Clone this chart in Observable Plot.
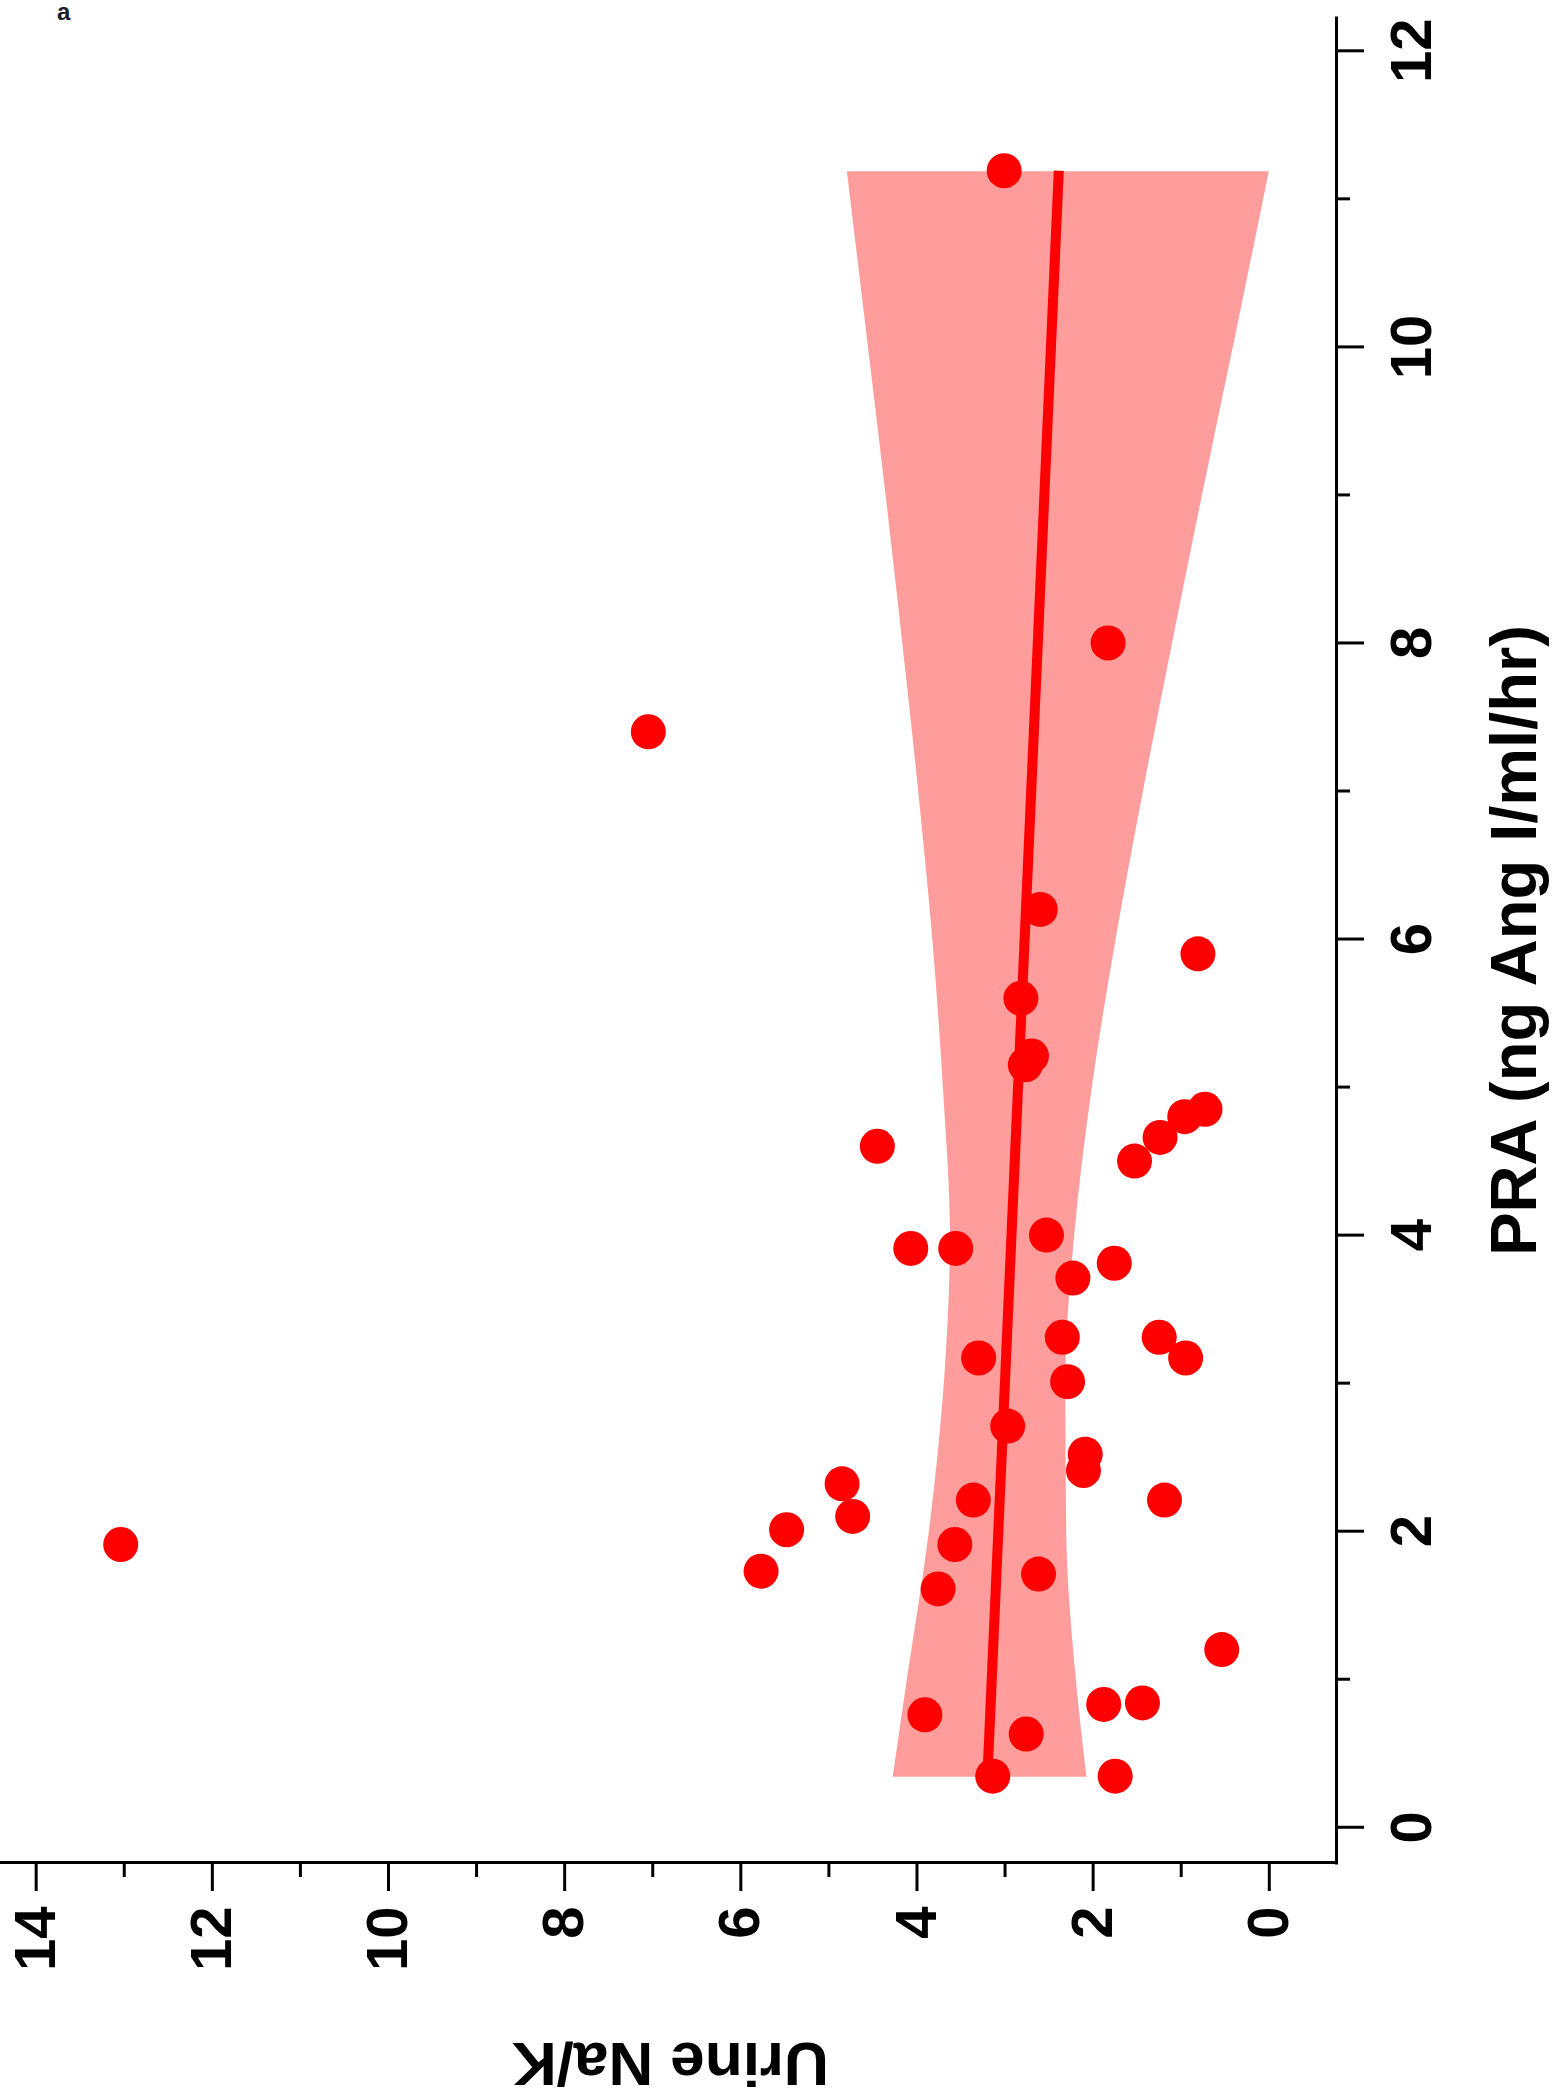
<!DOCTYPE html>
<html>
<head>
<meta charset="utf-8">
<script src="https://cdn.jsdelivr.net/npm/d3@7"></script>
<script src="https://cdn.jsdelivr.net/npm/@observablehq/plot@0.6"></script>
<style>
  html, body { margin: 0; padding: 0; background: #fff; width: 1554px; height: 2100px; overflow: hidden; }
  #wrap { position: absolute; left: 0; top: 0; width: 2100px; height: 1554px;
          transform-origin: 0 0; transform: rotate(-90deg) translate(-2100px, 0); }
  #panel { position: absolute; left: 57px; top: 0px; font: bold 24px "Liberation Sans", Arial, sans-serif;
           line-height: 24px; color: #1c1c2c; z-index: 2; }
</style>
</head>
<body>
<div id="wrap"></div>
<div id="panel">a</div>
<script>
// Data
const pra = [1.91, 7.40, 11.19, 8.00, 6.20, 5.90, 5.60, 5.21, 5.15, 4.60, 4.85, 4.80, 4.66, 4.50, 3.91, 3.91, 4.00, 3.71, 3.81, 3.31, 3.31, 3.17, 3.17, 3.01, 2.71, 2.52, 2.41, 2.21, 2.32, 2.10, 2.01, 1.73, 2.21, 1.91, 1.61, 1.71, 1.20, 0.76, 0.63, 0.83, 0.84, 0.345, 0.345];
const naK = [13.04, 7.05, 3.01, 1.83, 2.60, 0.81, 2.82, 2.70, 2.77, 4.45, 0.73, 0.96, 1.24, 1.53, 4.07, 3.56, 2.53, 2.23, 1.76, 2.35, 1.25, 0.95, 3.30, 2.29, 2.97, 2.09, 2.11, 1.19, 4.85, 4.73, 5.48, 5.77, 3.36, 3.57, 3.76, 2.62, 0.54, 3.91, 2.76, 1.88, 1.44, 3.14, 1.75];

const bandPRA  = [0.345, 1, 2, 3, 4, 5, 6, 7, 8, 9, 10, 11.19];
const bandLow  = [2.07, 2.19, 2.30, 2.31, 2.21, 2.01, 1.74, 1.43, 1.10, 0.76, 0.41, 0.00];
const bandHigh = [4.27, 4.11, 3.86, 3.69, 3.62, 3.70, 3.82, 3.98, 4.16, 4.35, 4.55, 4.79];

const fitPRA = [0.345, 11.19];
const fitNaK = [3.20, 2.39];

const xMajor = [0, 2, 4, 6, 8, 10, 12];
const xMinor = [1, 3, 5, 7, 9, 11];
const yMajor = [0, 2, 4, 6, 8, 10, 12, 14];
const yMinor = [1, 3, 5, 7, 9, 11, 13];

const xLabel = "PRA (ng Ang I/ml/hr)";
const yLabel = "Urine Na/K";

const points = pra.map((p, i) => ({pra: p, nak: naK[i]}));
const band = bandPRA.map((p, i) => ({pra: p, lo: bandLow[i], hi: bandHigh[i]}));
const fit = fitPRA.map((p, i) => ({pra: p, nak: fitNaK[i]}));

const X0 = -0.238, X1 = 12.225, Y0 = -0.763, Y1 = 14.405;
const FONT = "'Liberation Sans', Arial, sans-serif";

const chart = Plot.plot({
  width: 2100, height: 1554,
  marginLeft: 237, marginRight: 18, marginTop: 0, marginBottom: 218,
  x: {domain: [X0, X1]},
  y: {domain: [Y0, Y1]},
  style: {fontFamily: FONT, background: "white", color: "black", overflow: "visible"},
  marks: [
    Plot.areaY(band, {x: "pra", y1: "lo", y2: "hi", fill: "#ff9c9c", curve: "monotone-x"}),
    Plot.line(fit, {x: "pra", y: "nak", stroke: "#ff0000", strokeWidth: 10, strokeLinecap: "butt"}),
    Plot.dot(points, {x: "pra", y: "nak", r: 17.5, fill: "#ff0000", stroke: "none"}),
    Plot.ruleY([Y0], {x1: X0, x2: X1, stroke: "black", strokeWidth: 3, strokeLinecap: "square"}),
    Plot.ruleX([X0], {y1: Y0, y2: Y1, stroke: "black", strokeWidth: 3, strokeLinecap: "square"}),
    Plot.axisX({ticks: xMajor, tickSize: 28, tickPadding: 25, fontSize: 58, fontWeight: "bold", strokeWidth: 3, label: null, tickFormat: d => String(d)}),
    Plot.axisX({ticks: xMinor, tickSize: 14, strokeWidth: 3, label: null, tickFormat: () => ""}),
    Plot.axisY({ticks: yMajor, tickSize: 28, tickPadding: 16, fontSize: 58, fontWeight: "bold", strokeWidth: 3, label: null, tickFormat: d => String(d)}),
    Plot.axisY({ticks: yMinor, tickSize: 14, strokeWidth: 3, label: null, tickFormat: () => ""}),
    Plot.text([xLabel], {x: 5.99, frameAnchor: "bottom", dy: 199, lineAnchor: "bottom", textAnchor: "middle", text: d => d, fontSize: 65, fontWeight: "bold", fill: "black"}),
    Plot.text([yLabel], {y: 6.8, frameAnchor: "left", dx: -180, rotate: -90, lineAnchor: "bottom", textAnchor: "middle", text: d => d, fontSize: 62, fontWeight: "bold", fill: "black"})
  ]
});
document.getElementById("wrap").appendChild(chart);
</script>
</body>
</html>
